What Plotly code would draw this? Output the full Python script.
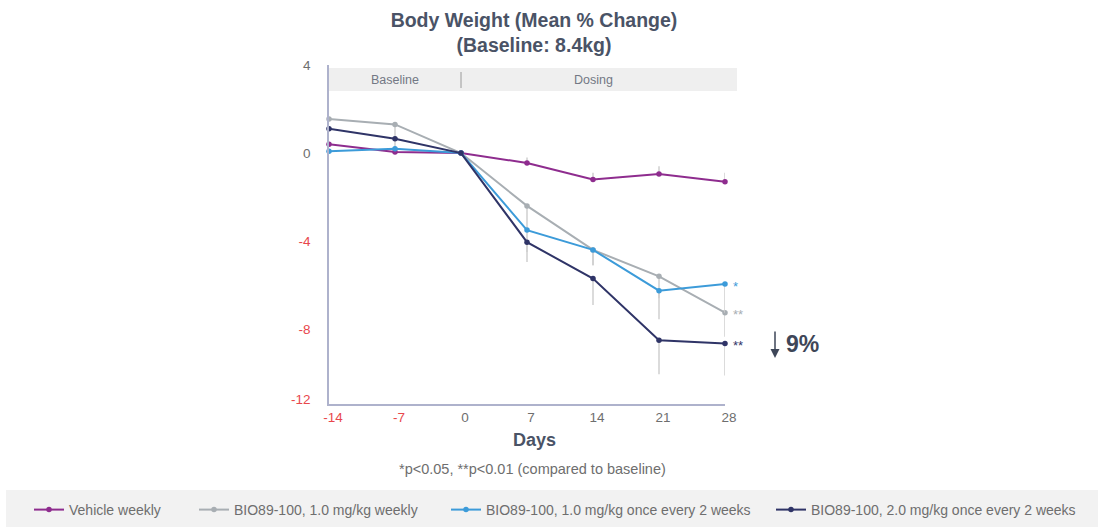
import plotly.graph_objects as go

# Study days and mean % change in body weight per group
days = [-14, -7, 0, 7, 14, 21, 28]

vehicle = [0.4, 0.05, 0.0, -0.45, -1.2, -0.95, -1.3]
vehicle_err = [0, 0, 0, 0.25, 0.3, 0.35, 0.4]

bio_1_weekly = [1.55, 1.3, 0.0, -2.4, -4.4, -5.6, -7.25]
bio_1_weekly_err = [0, 1.2, 0, 1.0, 0.7, 1.0, 1.1]

bio_1_q2w = [0.08, 0.2, 0.0, -3.5, -4.4, -6.25, -5.95]
bio_1_q2w_err = [0, 0, 0, 1.0, 0.7, 1.3, 1.3]

bio_2_q2w = [1.1, 0.65, 0.0, -4.05, -5.7, -8.5, -8.65]
bio_2_q2w_err = [0, 0, 0, 0.9, 1.2, 1.55, 1.45]

series_names = [
    "Vehicle weekly",
    "BIO89-100, 1.0 mg/kg weekly",
    "BIO89-100, 1.0 mg/kg once every 2 weeks",
    "BIO89-100, 2.0 mg/kg once every 2 weeks",
]
colors = ["#8E2C8E", "#A8AEB3", "#3C9BD9", "#2F3467"]

y_tick_vals = [4, 0, -4, -8, -11.2]
y_tick_text = ["4", "0", "-4", "-8", "-12"]
x_tick_text = ["-14", "-7", "0", "7", "14", "21", "28"]

RED = "#E8474C"
GREY_TXT = "#6E6E6E"
TITLE = "#4A5366"
ERR = "#CFCFCF"

W, H = 1098, 527
PX0, PX1, PY0, PY1 = 329, 725, 65, 404          # plot area in pixels
L, R, T, B = PX0, W - PX1, PY0, H - PY1

# left edge (pixels) of each legend entry in the bottom band
legend_left = [29, 194, 446, 771]


def px(x):
    """Horizontal pixel -> paper coordinate."""
    return (x - PX0) / (PX1 - PX0)


def py(y):
    """Vertical pixel -> paper coordinate."""
    return (PY1 - y) / (PY1 - PY0)


def colored(labels, red_set):
    return [f'<span style="color:{RED}">{t}</span>' if t in red_set else t for t in labels]


def note(x, y, text, size, color, xref="paper", yref="paper", **kw):
    fig.add_annotation(x=x, y=y, xref=xref, yref=yref, text=text, showarrow=False,
                       xanchor=kw.pop("xanchor", "center"), yanchor=kw.pop("yanchor", "middle"),
                       font=dict(size=size, color=color), **kw)


fig = go.Figure()

data = [
    (vehicle, vehicle_err, "plus"),
    (bio_1_weekly, bio_1_weekly_err, "minus"),
    (bio_1_q2w, bio_1_q2w_err, "minus"),
    (bio_2_q2w, bio_2_q2w_err, "minus"),
]

legend_ids = ["legend", "legend2", "legend3", "legend4"]

for (vals, err, side), name, col, lg in zip(data, series_names, colors, legend_ids):
    ed = dict(type="data", symmetric=False, color=ERR, thickness=1.5, width=0)
    zeros = [0] * len(err)
    ed["array"], ed["arrayminus"] = (err, zeros) if side == "plus" else (zeros, err)
    fig.add_trace(go.Scatter(
        x=days, y=vals, name=name, mode="lines+markers",
        line=dict(color=col, width=2),
        marker=dict(color=col, size=5.5),
        error_y=ed,
        cliponaxis=False,
        legend=lg,
    ))

# Baseline / Dosing banner above the plot
fig.add_shape(type="rect", xref="paper", yref="paper",
              x0=0, x1=px(737), y0=py(91), y1=py(68),
              fillcolor="#EFEFEF", line=dict(width=0), layer="below")
fig.add_shape(type="line", xref="x", yref="paper", x0=0, x1=0, y0=py(88), y1=py(72),
              line=dict(color="#9A9A9A", width=1))
note(-7, py(80), "Baseline", 12.5, "#737884", xref="x")
note(14, py(80), "Dosing", 12.5, "#737884", xref="x")

# Significance markers at day 28
for vals, col, mark in [(bio_1_q2w, colors[2], "*"), (bio_1_weekly, colors[1], "**"),
                        (bio_2_q2w, colors[3], "**")]:
    note(28, vals[-1], mark, 13, col, xref="x", yref="y", xanchor="left", xshift=6, yshift=-2)

# Down arrow and reduction label
fig.add_annotation(x=px(775), y=py(358), xref="paper", yref="paper", ax=0, ay=-28,
                   text="", showarrow=True, arrowhead=2, arrowsize=1.2, arrowwidth=1.5,
                   arrowcolor="#3E4658")
note(px(784), py(344), "<b>9%</b>", 23, "#3E4658", xanchor="left")

# Axis title and footnote
note(px(534), py(440), "<b>Days</b>", 18, TITLE)
note(px(532), py(469), "*p<0.05, **p<0.01 (compared to baseline)", 14.5, GREY_TXT)

# Legend band
fig.add_shape(type="rect", xref="paper", yref="paper",
              x0=px(6), x1=px(W), y0=py(H), y1=py(490),
              fillcolor="#F2F2F2", line=dict(width=0), layer="below")

legend_style = dict(orientation="h", xref="container", yref="container", xanchor="left",
                    y=1 - 510 / H, yanchor="middle", bgcolor="rgba(0,0,0,0)",
                    font=dict(size=14, color=GREY_TXT), itemclick=False)

fig.update_layout(
    width=W, height=H,
    margin=dict(l=L, r=R, t=T, b=B, autoexpand=False),
    paper_bgcolor="white", plot_bgcolor="white",
    font=dict(family="Liberation Sans, Arial, sans-serif", color=GREY_TXT),
    title=dict(text="<b>Body Weight (Mean % Change)<br>(Baseline: 8.4kg)</b>",
               x=534 / W, xanchor="center", y=1 - 27 / H, yanchor="middle",
               font=dict(size=19.5, color=TITLE)),
    showlegend=True,
    legend=dict(x=legend_left[0] / W, **legend_style),
    legend2=dict(x=legend_left[1] / W, **legend_style),
    legend3=dict(x=legend_left[2] / W, **legend_style),
    legend4=dict(x=legend_left[3] / W, **legend_style),
    xaxis=dict(range=[-14, 28], tickvals=days, ticktext=colored(x_tick_text, {"-14", "-7"}),
               showgrid=False, zeroline=False, showline=True, linecolor="#AEB2CC", linewidth=1.5,
               ticks="", ticklabelshift=4, tickfont=dict(size=13.5, color=GREY_TXT)),
    yaxis=dict(range=[-11.4, 4], tickvals=y_tick_vals,
               ticktext=colored(y_tick_text, {"-4", "-8", "-12"}),
               showgrid=False, zeroline=False, showline=True, linecolor="#AEB2CC", linewidth=1.5,
               ticks="", ticklabelstandoff=14, tickfont=dict(size=13.5, color=GREY_TXT)),
)

fig.write_html("out.html")
